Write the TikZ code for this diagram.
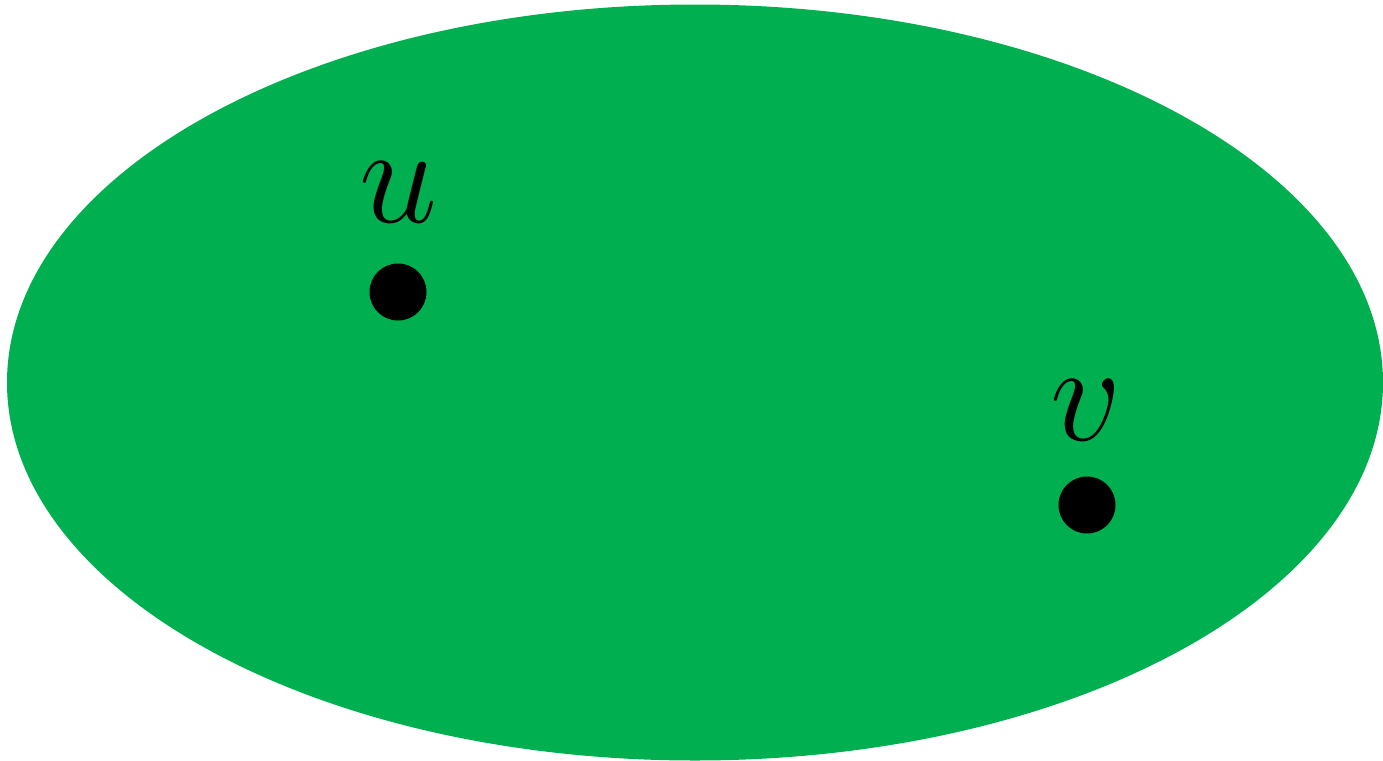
\documentclass[tikz,border=0pt]{standalone}
\usepackage{fix-cm}
\definecolor{setgreen}{RGB}{0,176,80}
\begin{document}
\begin{tikzpicture}[x=0.5pt,y=-0.5pt,
  vertex/.style={circle,fill=black,inner sep=0pt,minimum size=28.5pt},
  vlabel/.style={inner sep=0pt,font=\fontsize{70}{80}\selectfont}]
\useasboundingbox (0,0) rectangle (1383,761);
\fill[setgreen] (695,382.5) ellipse [x radius=688, y radius=378];
\node[vertex] (u) at (398,292) {};
\node[vertex] (v) at (1087,505) {};
\node[vlabel] (ul) at (399,192) {$u$};
\node[vlabel] (vl) at (1086,410) {$v$};
\end{tikzpicture}
\end{document}
